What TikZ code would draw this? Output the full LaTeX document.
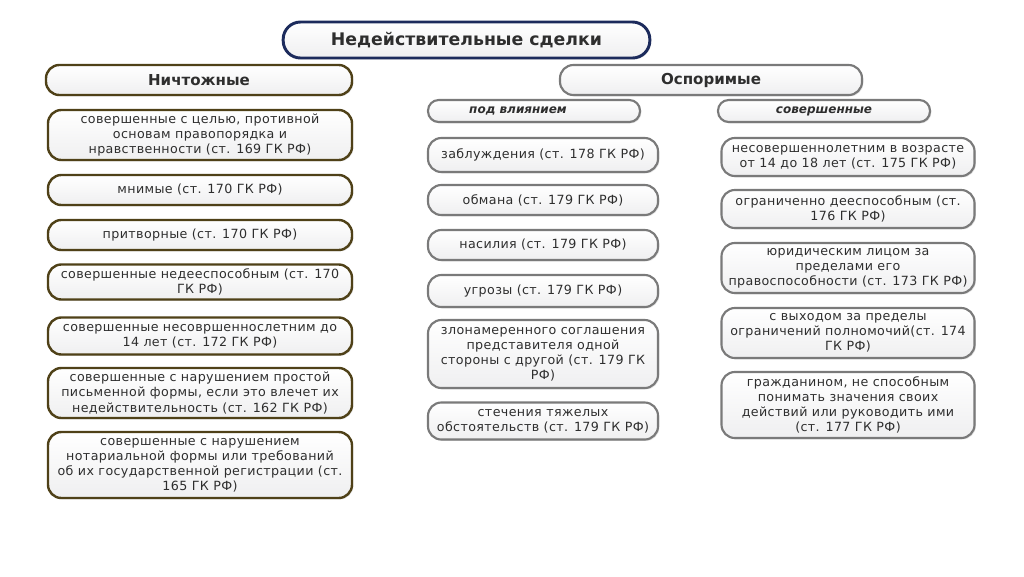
\documentclass[tikz,border=0pt]{standalone}
\usepackage{fontspec}
\setmainfont{DejaVu Sans}
\newfontfamily\bodyfont[LetterSpace=3]{DejaVu Sans}
\usetikzlibrary{shadows}
\definecolor{olive}{HTML}{4F4118}
\definecolor{navy}{HTML}{1C2B5C}
\definecolor{gborder}{HTML}{7A7A7A}
\definecolor{txt}{HTML}{2E2E2E}
\tikzset{
  x=0.75pt, y=-0.75pt,
  base/.style={rounded corners=10pt, align=center, inner sep=1pt, text=txt,
    top color=white, bottom color=blue!4!gray!12,
    drop shadow={opacity=0.25, shadow xshift=1pt, shadow yshift=-1pt},
    font=\bodyfont\fontsize{9.5pt}{11.3pt}\selectfont},
  lbox/.style={base, draw=olive, line width=1.8pt},
  gbox/.style={base, draw=gborder, line width=1.6pt},
  tbox/.style={base, draw=navy, line width=2.2pt, rounded corners=13pt,
    font=\fontsize{13pt}{15pt}\selectfont\bfseries},
  hdr/.style={font=\fontsize{11.3pt}{13pt}\selectfont\bfseries},
  sub/.style={font=\fontsize{9pt}{11pt}\selectfont\bfseries\itshape},
}
\begin{document}
\begin{tikzpicture}
\useasboundingbox[fill=white] (0,0) rectangle (1024,576);
% title
\node[tbox, minimum width=275pt, minimum height=27pt] (title) at (466.5,40) {Недействительные сделки};
% left
\node[lbox, hdr, minimum width=229.5pt, minimum height=22.5pt] (nich) at (199,80) {Ничтожные};
\node[lbox, minimum width=228pt, minimum height=37.5pt] (l1) at (200,135) {совершенные с целью, противной\\основам правопорядка и\\нравственности (ст. 169 ГК РФ)};
\node[lbox, minimum width=228pt, minimum height=22.5pt] (l2) at (200,190) {мнимые (ст. 170 ГК РФ)};
\node[lbox, minimum width=228pt, minimum height=22.5pt] (l3) at (200,235) {притворные (ст. 170 ГК РФ)};
\node[lbox, minimum width=228pt, minimum height=26.25pt] (l4) at (200,282) {совершенные недееспособным (ст. 170\\ГК РФ)};
\node[lbox, minimum width=228pt, minimum height=27.75pt] (l5) at (200,336) {совершенные несовршеннослетним до\\14 лет (ст. 172 ГК РФ)};
\node[lbox, minimum width=228pt, minimum height=37.5pt] (l6) at (200,393) {совершенные с нарушением простой\\письменной формы, если это влечет их\\недействительность (ст. 162 ГК РФ)};
\node[lbox, minimum width=228pt, minimum height=49.5pt] (l7) at (200,465) {совершенные с нарушением\\нотариальной формы или требований\\об их государственной регистрации (ст.\\165 ГК РФ)};
% right headers
\node[gbox, hdr, minimum width=226.5pt, minimum height=22.5pt] (osp) at (711,80) {Оспоримые};
\node[gbox, sub, minimum width=159pt, minimum height=16.5pt, rounded corners=8pt] (pod) at (534,111) {под влиянием\hspace*{24pt}};
\node[gbox, sub, minimum width=159pt, minimum height=16.5pt, rounded corners=8pt] (sov) at (824,111) {совершенные};
% middle
\node[gbox, minimum width=172.5pt, minimum height=25.5pt] (m1) at (543,155) {заблуждения (ст. 178 ГК РФ)};
\node[gbox, minimum width=172.5pt, minimum height=22.5pt] (m2) at (543,200) {обмана (ст. 179 ГК РФ)};
\node[gbox, minimum width=172.5pt, minimum height=22.5pt] (m3) at (543,245) {насилия (ст. 179 ГК РФ)};
\node[gbox, minimum width=172.5pt, minimum height=24pt] (m4) at (543,291) {угрозы (ст. 179 ГК РФ)};
\node[gbox, minimum width=172.5pt, minimum height=51pt] (m5) at (543,354) {злонамеренного соглашения\\представителя одной\\стороны с другой (ст. 179 ГК\\РФ)};
\node[gbox, minimum width=172.5pt, minimum height=27.75pt] (m6) at (543,421) {стечения тяжелых\\обстоятельств (ст. 179 ГК РФ)};
% right
\node[gbox, minimum width=189.75pt, minimum height=28.5pt] (r1) at (848,157) {несовершеннолетним в возрасте\\от 14 до 18 лет (ст. 175 ГК РФ)};
\node[gbox, minimum width=189.75pt, minimum height=28.5pt] (r2) at (848,209) {ограниченно дееспособным (ст.\\176 ГК РФ)};
\node[gbox, minimum width=189.75pt, minimum height=37.5pt] (r3) at (848,268) {юридическим лицом за\\пределами его\\правоспособности (ст. 173 ГК РФ)};
\node[gbox, minimum width=189.75pt, minimum height=37.5pt] (r4) at (848,333) {с выходом за пределы\\ограничений полномочий(ст. 174\\ГК РФ)};
\node[gbox, minimum width=189.75pt, minimum height=49.5pt] (r5) at (848,405) {гражданином, не способным\\понимать значения своих\\действий или руководить ими\\(ст. 177 ГК РФ)};
\end{tikzpicture}
\end{document}
